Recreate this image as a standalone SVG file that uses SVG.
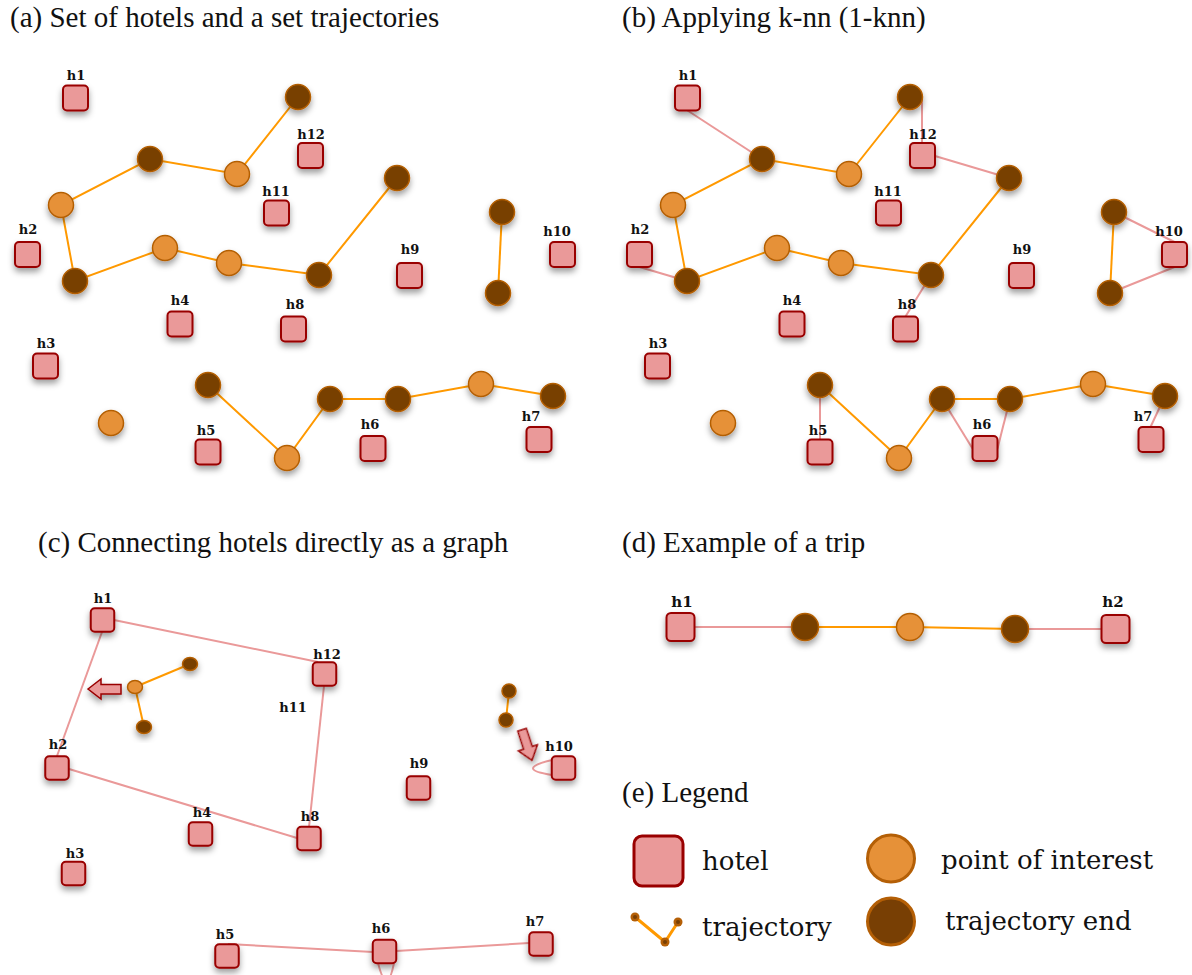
<svg xmlns="http://www.w3.org/2000/svg" width="1192" height="975" viewBox="0 0 1192 975">
  <defs>
    <filter id="sh" x="-50%" y="-50%" width="200%" height="220%">
      <feDropShadow dx="0" dy="4" stdDeviation="3" flood-color="#000" flood-opacity="0.38"/>
    </filter>
    <style>
      .hotel{fill:#ea9999;stroke:#990000;stroke-width:2;filter:url(#sh)}
      .poi{fill:#e69138;stroke:#b45f06;stroke-width:1.5;filter:url(#sh)}
      .end{fill:#783f04;stroke:#b45f06;stroke-width:1.5;filter:url(#sh)}
      .traj{stroke:#ff9900;stroke-width:2;fill:none}
      .link{stroke:#ea9999;stroke-width:2;fill:none}
      .lbl{font-family:"DejaVu Serif",serif;font-weight:bold;font-size:13px;text-anchor:middle;fill:#111}
      .title{font-family:"Liberation Serif",serif;font-size:29px;fill:#111}
      .leg{font-family:"DejaVu Serif",serif;font-size:26px;fill:#111}
      .arrow{fill:#ea9999;stroke:#990000;stroke-width:1.5;filter:url(#sh)}
    </style>
  </defs>
  <rect width="1192" height="975" fill="#fff"/>

  <!-- panel titles -->
  <g id="titles">
    <text class="title" x="10" y="27">(a) Set of hotels and a set trajectories</text>
    <text class="title" x="622" y="27">(b) Applying k-nn (1-knn)</text>
    <text class="title" x="38" y="552">(c) Connecting hotels directly as a graph</text>
    <text class="title" x="622" y="552">(d) Example of a trip</text>
    <text class="title" x="622" y="802">(e) Legend</text>
  </g>

  <!-- ===== (a) hotels and trajectories ===== -->
  <g id="a-connectors">
    <polyline class="traj" points="298,97 237,174 150,159 61,205 75,281 165,248 229,263 319,275 397,178"/>
    <polyline class="traj" points="502,212 498,293"/>
    <polyline class="traj" points="208,385 287,458 330,399 398,399 481,384 553,396"/>
  </g>
  <g id="a-h1"><rect class="hotel" x="63" y="85.5" width="25" height="25" rx="4"/><text class="lbl" x="76" y="80">h1</text></g>
  <g id="a-h2"><rect class="hotel" x="15" y="242" width="25" height="25" rx="4"/><text class="lbl" x="28" y="234">h2</text></g>
  <g id="a-h3"><rect class="hotel" x="33" y="353.5" width="25" height="25" rx="4"/><text class="lbl" x="46" y="348">h3</text></g>
  <g id="a-h4"><rect class="hotel" x="167.5" y="311.5" width="25" height="25" rx="4"/><text class="lbl" x="180" y="305">h4</text></g>
  <g id="a-h5"><rect class="hotel" x="195.5" y="439.5" width="25" height="25" rx="4"/><text class="lbl" x="206" y="435">h5</text></g>
  <g id="a-h6"><rect class="hotel" x="360.5" y="436" width="25" height="25" rx="4"/><text class="lbl" x="370" y="429">h6</text></g>
  <g id="a-h7"><rect class="hotel" x="526.5" y="427" width="25" height="25" rx="4"/><text class="lbl" x="531" y="421">h7</text></g>
  <g id="a-h8"><rect class="hotel" x="281" y="316.5" width="25" height="25" rx="4"/><text class="lbl" x="295" y="309">h8</text></g>
  <g id="a-h9"><rect class="hotel" x="397" y="263" width="25" height="25" rx="4"/><text class="lbl" x="410" y="254">h9</text></g>
  <g id="a-h10"><rect class="hotel" x="550" y="242" width="25" height="25" rx="4"/><text class="lbl" x="557" y="236">h10</text></g>
  <g id="a-h11"><rect class="hotel" x="264" y="200.5" width="25" height="25" rx="4"/><text class="lbl" x="276" y="196">h11</text></g>
  <g id="a-h12"><rect class="hotel" x="298" y="143" width="25" height="25" rx="4"/><text class="lbl" x="311" y="139">h12</text></g>
  <g id="a-points">
    <circle class="end" cx="298" cy="97" r="12.5"/>
    <circle class="poi" cx="237" cy="174" r="12.5"/>
    <circle class="end" cx="150" cy="159" r="12.5"/>
    <circle class="poi" cx="61" cy="205" r="12.5"/>
    <circle class="end" cx="75" cy="281" r="12.5"/>
    <circle class="poi" cx="165" cy="248" r="12.5"/>
    <circle class="poi" cx="229" cy="263" r="12.5"/>
    <circle class="end" cx="319" cy="275" r="12.5"/>
    <circle class="end" cx="397" cy="178" r="12.5"/>
    <circle class="end" cx="502" cy="212" r="12.5"/>
    <circle class="end" cx="498" cy="293" r="12.5"/>
    <circle class="end" cx="208" cy="385" r="12.5"/>
    <circle class="poi" cx="287" cy="458" r="12.5"/>
    <circle class="end" cx="330" cy="399" r="12.5"/>
    <circle class="end" cx="398" cy="399" r="12.5"/>
    <circle class="poi" cx="481" cy="384" r="12.5"/>
    <circle class="end" cx="553" cy="396" r="12.5"/>
    <circle class="poi" cx="111" cy="423" r="12.5"/>
  </g>

  <!-- ===== (b) nearest-hotel links ===== -->
  <g id="b-connectors">
    <polyline class="traj" points="910,97 849,174 762,159 673,205 687,281 777,248 841,263 931,275 1009,178"/>
    <polyline class="traj" points="1114,212 1110,293"/>
    <polyline class="traj" points="820,385 899,458 942,399 1010,399 1093,384 1165,396"/>
    <line class="link" x1="687.5" y1="110.5" x2="762" y2="159"/>
    <line class="link" x1="639.5" y1="267" x2="687" y2="281"/>
    <line class="link" x1="922" y1="97" x2="922" y2="143"/>
    <line class="link" x1="935" y1="156" x2="1009" y2="178"/>
    <line class="link" x1="905.5" y1="316.5" x2="931" y2="275"/>
    <line class="link" x1="1174.5" y1="242" x2="1114" y2="212"/>
    <line class="link" x1="1174.5" y1="267" x2="1110" y2="293"/>
    <line class="link" x1="820" y1="439.5" x2="820" y2="385"/>
    <line class="link" x1="972.5" y1="448.5" x2="942" y2="399"/>
    <line class="link" x1="997.5" y1="448.5" x2="1010" y2="399"/>
    <line class="link" x1="1150.5" y1="427" x2="1165" y2="396"/>
  </g>
  <g id="b-h1"><rect class="hotel" x="675" y="85.5" width="25" height="25" rx="4"/><text class="lbl" x="688" y="80">h1</text></g>
  <g id="b-h2"><rect class="hotel" x="627" y="242" width="25" height="25" rx="4"/><text class="lbl" x="640" y="234">h2</text></g>
  <g id="b-h3"><rect class="hotel" x="645" y="353.5" width="25" height="25" rx="4"/><text class="lbl" x="658" y="348">h3</text></g>
  <g id="b-h4"><rect class="hotel" x="779.5" y="311.5" width="25" height="25" rx="4"/><text class="lbl" x="792" y="305">h4</text></g>
  <g id="b-h5"><rect class="hotel" x="807.5" y="439.5" width="25" height="25" rx="4"/><text class="lbl" x="818" y="435">h5</text></g>
  <g id="b-h6"><rect class="hotel" x="972.5" y="436" width="25" height="25" rx="4"/><text class="lbl" x="982" y="429">h6</text></g>
  <g id="b-h7"><rect class="hotel" x="1138.5" y="427" width="25" height="25" rx="4"/><text class="lbl" x="1143" y="421">h7</text></g>
  <g id="b-h8"><rect class="hotel" x="893" y="316.5" width="25" height="25" rx="4"/><text class="lbl" x="907" y="309">h8</text></g>
  <g id="b-h9"><rect class="hotel" x="1009" y="263" width="25" height="25" rx="4"/><text class="lbl" x="1022" y="254">h9</text></g>
  <g id="b-h10"><rect class="hotel" x="1162" y="242" width="25" height="25" rx="4"/><text class="lbl" x="1169" y="236">h10</text></g>
  <g id="b-h11"><rect class="hotel" x="876" y="200.5" width="25" height="25" rx="4"/><text class="lbl" x="888" y="196">h11</text></g>
  <g id="b-h12"><rect class="hotel" x="910" y="143" width="25" height="25" rx="4"/><text class="lbl" x="923" y="139">h12</text></g>
  <g id="b-points">
    <circle class="end" cx="910" cy="97" r="12.5"/>
    <circle class="poi" cx="849" cy="174" r="12.5"/>
    <circle class="end" cx="762" cy="159" r="12.5"/>
    <circle class="poi" cx="673" cy="205" r="12.5"/>
    <circle class="end" cx="687" cy="281" r="12.5"/>
    <circle class="poi" cx="777" cy="248" r="12.5"/>
    <circle class="poi" cx="841" cy="263" r="12.5"/>
    <circle class="end" cx="931" cy="275" r="12.5"/>
    <circle class="end" cx="1009" cy="178" r="12.5"/>
    <circle class="end" cx="1114" cy="212" r="12.5"/>
    <circle class="end" cx="1110" cy="293" r="12.5"/>
    <circle class="end" cx="820" cy="385" r="12.5"/>
    <circle class="poi" cx="899" cy="458" r="12.5"/>
    <circle class="end" cx="942" cy="399" r="12.5"/>
    <circle class="end" cx="1010" cy="399" r="12.5"/>
    <circle class="poi" cx="1093" cy="384" r="12.5"/>
    <circle class="end" cx="1165" cy="396" r="12.5"/>
    <circle class="poi" cx="723" cy="423" r="12.5"/>
  </g>

  <!-- ===== (c) hotel graph ===== -->
  <g id="c-connectors">
    <line class="link" x1="114" y1="620" x2="318" y2="662"/>
    <line class="link" x1="102" y1="632" x2="57" y2="756"/>
    <line class="link" x1="324" y1="686" x2="309" y2="827"/>
    <line class="link" x1="69" y1="769" x2="297" y2="838"/>
    <line class="link" x1="228" y1="944" x2="373" y2="952"/>
    <line class="link" x1="396" y1="951" x2="529" y2="943"/>
    <path class="link" d="M552,760 Q514,769 552,775"/>
    <path class="link" d="M378,963 Q387,998 394,963"/>
    <line class="traj" x1="135" y1="687" x2="190" y2="664"/>
    <line class="traj" x1="135" y1="687" x2="144" y2="727"/>
    <line class="traj" x1="509" y1="691" x2="506" y2="720"/>
  </g>
  <g id="c-h1"><rect class="hotel" x="90.75" y="608.25" width="23.5" height="23.5" rx="4"/><text class="lbl" x="103" y="603">h1</text></g>
  <g id="c-h12"><rect class="hotel" x="312.75" y="662.25" width="23.5" height="23.5" rx="4"/><text class="lbl" x="327" y="659">h12</text></g>
  <g id="c-h11"><text class="lbl" x="293" y="712">h11</text></g>
  <g id="c-h2"><rect class="hotel" x="45.25" y="756.25" width="23.5" height="23.5" rx="4"/><text class="lbl" x="58" y="749">h2</text></g>
  <g id="c-h4"><rect class="hotel" x="188.75" y="822.25" width="23.5" height="23.5" rx="4"/><text class="lbl" x="202" y="817">h4</text></g>
  <g id="c-h8"><rect class="hotel" x="297.25" y="826.75" width="23.5" height="23.5" rx="4"/><text class="lbl" x="310" y="821">h8</text></g>
  <g id="c-h3"><rect class="hotel" x="61.75" y="861.75" width="23.5" height="23.5" rx="4"/><text class="lbl" x="75" y="858">h3</text></g>
  <g id="c-h9"><rect class="hotel" x="406.75" y="776.25" width="23.5" height="23.5" rx="4"/><text class="lbl" x="419" y="768">h9</text></g>
  <g id="c-h10"><rect class="hotel" x="551.75" y="756.25" width="23.5" height="23.5" rx="4"/><text class="lbl" x="559" y="751">h10</text></g>
  <g id="c-h5"><rect class="hotel" x="215.25" y="944.25" width="23.5" height="23.5" rx="4"/><text class="lbl" x="225" y="939">h5</text></g>
  <g id="c-h6"><rect class="hotel" x="372.75" y="939.75" width="23.5" height="23.5" rx="4"/><text class="lbl" x="381" y="933">h6</text></g>
  <g id="c-h7"><rect class="hotel" x="529.25" y="932.25" width="23.5" height="23.5" rx="4"/><text class="lbl" x="535" y="926">h7</text></g>
  <g id="c-points">
    <ellipse class="poi" cx="135" cy="687" rx="7.5" ry="6.5"/>
    <ellipse class="end" cx="190" cy="664" rx="7.5" ry="6.5"/>
    <ellipse class="end" cx="144" cy="727" rx="7.5" ry="6.5"/>
    <circle class="end" cx="509" cy="691" r="7"/>
    <circle class="end" cx="506" cy="720" r="7"/>
  </g>
  <g id="c-arrow-left">
    <polygon class="arrow" points="88,689 101,679 101,684.5 121,684.5 121,694 101,694 101,699"/>
  </g>
  <g id="c-arrow-down" transform="translate(527,745) rotate(-18)">
    <polygon class="arrow" points="-4.5,-16 4.5,-16 4.5,3 10,3 0,16 -10,3 -4.5,3"/>
  </g>

  <!-- ===== (d) a trip ===== -->
  <g id="d-connectors">
    <line class="link" x1="680" y1="627" x2="805" y2="627"/>
    <polyline class="traj" points="805,627 910,627 1015,629"/>
    <line class="link" x1="1015" y1="629" x2="1115" y2="629"/>
  </g>
  <g id="d-h1"><rect class="hotel" x="666.5" y="613" width="28" height="28" rx="4.5"/><text class="lbl" x="682" y="607" style="font-size:15px">h1</text></g>
  <g id="d-h2"><rect class="hotel" x="1101.5" y="615" width="28" height="28" rx="4.5"/><text class="lbl" x="1113" y="607" style="font-size:15px">h2</text></g>
  <g id="d-points">
    <circle class="end" cx="805" cy="627" r="13.5"/>
    <circle class="poi" cx="910" cy="627" r="13.5"/>
    <circle class="end" cx="1015" cy="629" r="13.5"/>
  </g>

  <!-- ===== (e) legend ===== -->
  <g id="legend">
    <rect x="634" y="836" width="49" height="50" rx="8" fill="#ea9999" stroke="#990000" stroke-width="3"/>
    <text class="leg" x="702" y="870">hotel</text>
    <circle cx="891" cy="858.5" r="23.5" fill="#e69138" stroke="#b45f06" stroke-width="3"/>
    <text class="leg" x="941" y="869">point of interest</text>
    <polyline points="635,917 665,942 678,922" fill="none" stroke="#ff9900" stroke-width="3"/>
    <circle cx="635" cy="917" r="4.5" fill="#b45f06"/>
    <circle cx="665" cy="942" r="4.5" fill="#b45f06"/>
    <circle cx="678" cy="922" r="4.5" fill="#b45f06"/>
    <circle cx="635" cy="917" r="2" fill="#783f04"/>
    <circle cx="665" cy="942" r="2" fill="#783f04"/>
    <circle cx="678" cy="922" r="2" fill="#783f04"/>
    <text class="leg" x="702" y="936">trajectory</text>
    <circle cx="891" cy="921.5" r="23.5" fill="#783f04" stroke="#b45f06" stroke-width="3"/>
    <text class="leg" x="945" y="930">trajectory end</text>
  </g>
</svg>
